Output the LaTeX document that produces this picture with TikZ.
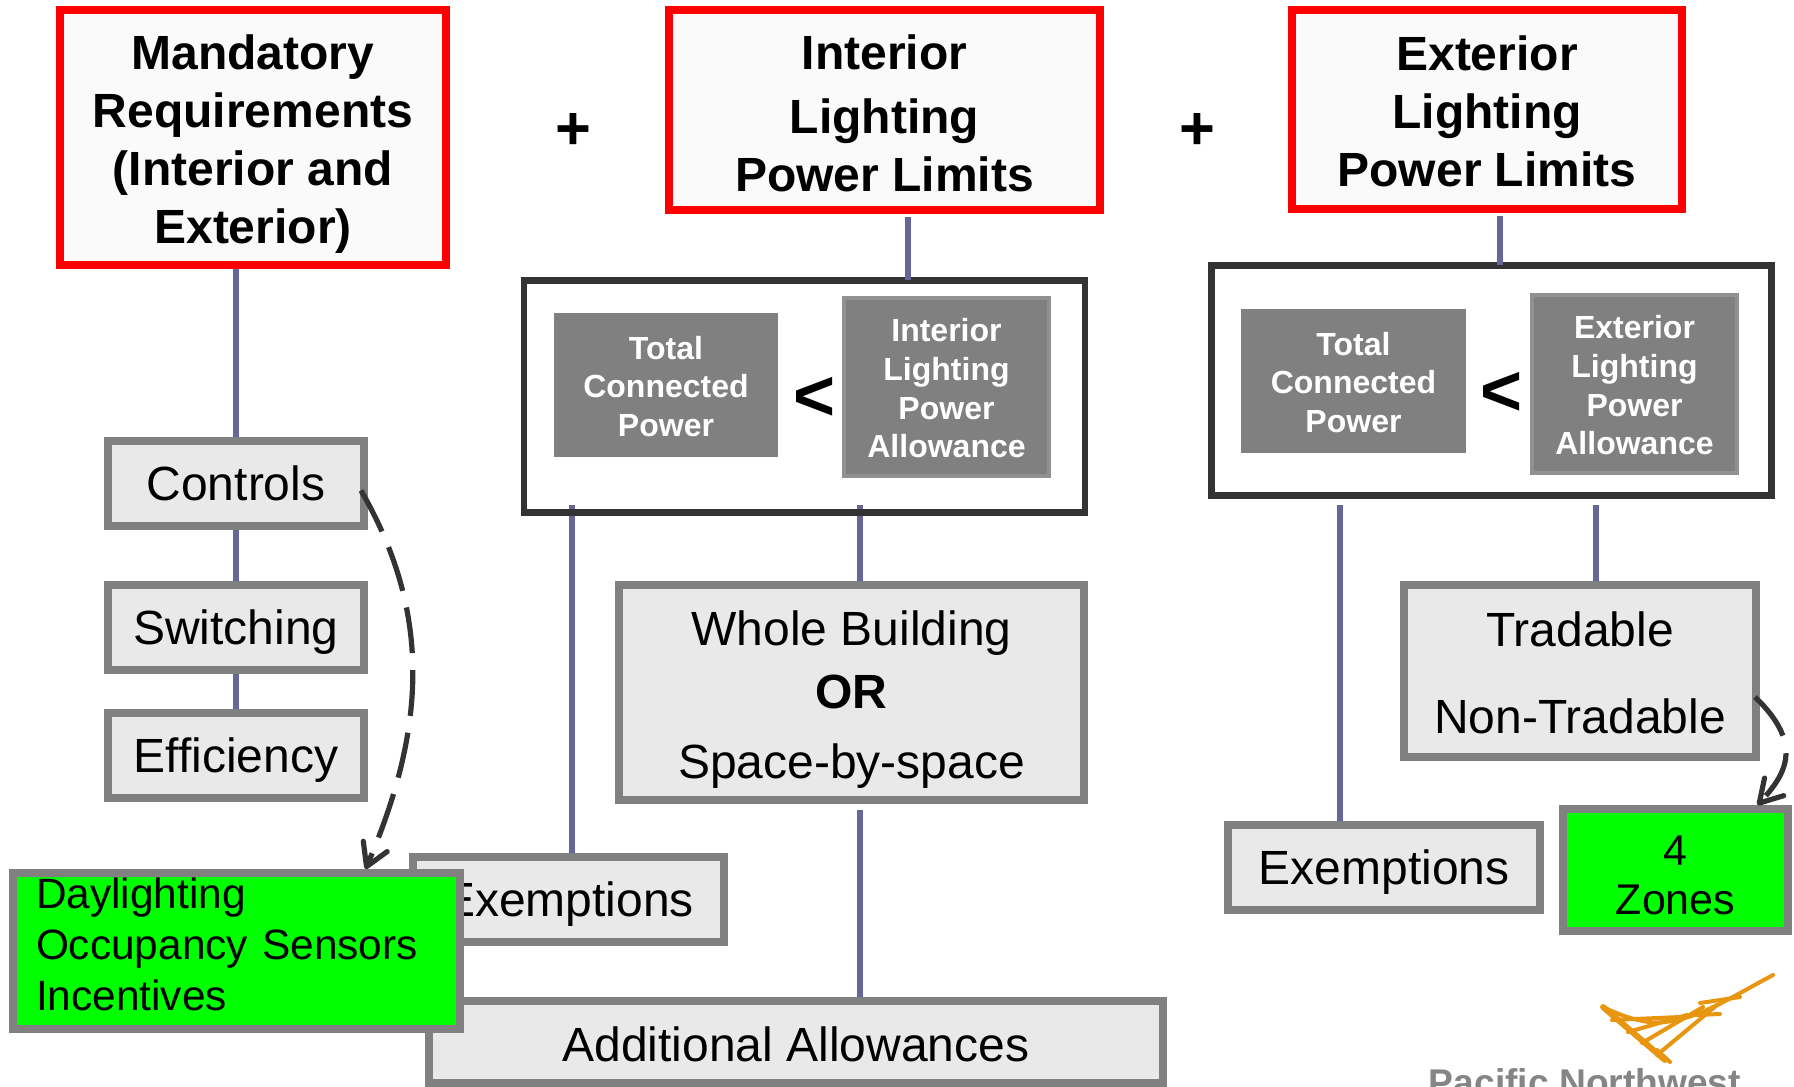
\documentclass[tikz,border=0pt]{standalone}
\usepackage{fontspec}
\setmainfont{Liberation Sans}
\usetikzlibrary{positioning, arrows.meta, calc, backgrounds}
\definecolor{link_blue}{HTML}{666699}
\definecolor{box_gray}{HTML}{808080}
\definecolor{box_fill}{HTML}{E9E9E9}
\definecolor{logo_orange}{HTML}{E8950F}
\newcommand{\padtop}[1]{\rule{0pt}{#1}}

\begin{document}
\begin{tikzpicture}
    [
        x=0.5pt, y=-0.5pt, on grid, inner sep=0pt,
        red_node/.style={rectangle, draw=red, fill=black!2, line width=4pt, align=center, font=\fontsize{24}{29}\selectfont\bfseries},
        gray_node/.style={rectangle, draw=box_gray, fill=box_fill, line width=4pt, align=center, font=\fontsize{24}{29}\selectfont},
        green_node/.style={rectangle, draw=box_gray, fill=green, line width=4pt},
        frame_node/.style={rectangle, draw=black!80, line width=3.3pt},
        dark_node/.style={rectangle, fill=box_gray, text=white, align=center, font=\fontsize{16}{19.3}\selectfont\bfseries},
        sign_node/.style={font=\fontsize{36}{36}\selectfont\bfseries},
        link_line/.style={draw=link_blue, line width=3pt},
        hint_line/.style={draw=black!80, line width=2.6pt, dash pattern=on 23pt off 8.5pt, -{Straight Barb[length=11pt, width=13pt, line width=2.6pt, round]}},
        logo_line/.style={draw=logo_orange, line width=2pt, line cap=round},
    ]
    \useasboundingbox (0,0) rectangle (1794,1087);

    % top row
    \node[red_node, minimum width=193pt, minimum height=127.5pt] (mandatory) at (253,137.5) {\padtop{24pt}Mandatory\\Requirements\\(Interior and\\Exterior)};
    \node[red_node, minimum width=215.5pt, minimum height=100pt] (interior) at (884.5,110) {\padtop{20.6pt}Interior\\[3pt]Lighting\\Power Limits};
    \node[red_node, minimum width=195pt, minimum height=99.5pt] (exterior) at (1487,109.5) {\padtop{18.9pt}Exterior\\Lighting\\Power Limits};
    \node[sign_node, font=\fontsize{30.7}{31}\selectfont\bfseries] (plus_a) at (573,131.5) {+};
    \node[sign_node, font=\fontsize{30.7}{31}\selectfont\bfseries] (plus_b) at (1197,131.5) {+};

    % limit frames
    \node[frame_node, minimum width=280.4pt, minimum height=116pt] (limit_int) at (804.5,396.5) {};
    \node[dark_node, minimum width=112pt, minimum height=72pt] (tcp_int) at (666,385) {\padtop{13pt}Total\\Connected\\Power};
    \node[dark_node, draw=black!43, line width=2pt, minimum width=102.5pt, minimum height=89pt] (lpa_int) at (946.5,387) {\padtop{13pt}Interior\\Lighting\\Power\\Allowance};
    \node[sign_node] (less_int) at (815,399) {<};
    \node[frame_node, minimum width=280pt, minimum height=115pt] (limit_ext) at (1491.5,380.5) {};
    \node[dark_node, minimum width=112.5pt, minimum height=72pt] (tcp_ext) at (1353.5,381) {\padtop{13pt}Total\\Connected\\Power};
    \node[dark_node, draw=black!43, line width=2pt, minimum width=102.5pt, minimum height=89pt] (lpa_ext) at (1634.5,384) {\padtop{13pt}Exterior\\Lighting\\Power\\Allowance};
    \node[sign_node] (less_ext) at (1502,394) {<};

    % left column
    \node[gray_node, minimum width=128pt, minimum height=42.5pt] (controls) at (236,483.5) {Controls};
    \node[gray_node, text depth=0pt, minimum width=128pt, minimum height=42.5pt] (switching) [below = 72pt of controls] {Switching};
    \node[gray_node, text depth=0pt, minimum width=128pt, minimum height=42.5pt] (efficiency) [below = 64pt of switching] {Efficiency};

    % lower boxes
    \node[gray_node, minimum width=232.5pt, minimum height=107.5pt] (whole) at (851.5,692.5) {\padtop{24.6pt}Whole Building\\[2.5pt]\textbf{OR}\\[6pt]Space-by-space};
    \node[gray_node, text depth=0pt, minimum width=155.5pt, minimum height=42.5pt] (exempt_int) at (568.5,899.5) {Exemptions};
    \node[gray_node, text height=19.8pt, minimum width=367pt, minimum height=41pt] (additional) at (796,1042) {Additional Allowances};
    \node[gray_node, minimum width=176pt, minimum height=86pt] (tradable) at (1580,671) {\padtop{18.9pt}Tradable\\[14.5pt]Non-Tradable};
    \node[gray_node, text depth=0pt, minimum width=156pt, minimum height=42.5pt] (exempt_ext) at (1384,867.5) {Exemptions};
    \node[green_node, align=center, font=\fontsize{21.5}{24.5}\selectfont, minimum width=112.5pt, minimum height=61pt] (zones) at (1675.5,870) {\padtop{20.2pt}4\\Zones};
    \node[green_node, align=left, font=\fontsize{21.2}{25.5}\selectfont, text width=200.5pt, inner xsep=11.5pt, minimum height=78pt] (incentives) at (236.5,951) {Daylighting\\Occupancy Sensors\\Incentives\rule[-7pt]{0pt}{0pt}};

    % taps under the frames
    \coordinate (tap_a) at (572,505);
    \coordinate (tap_b) at (860,505);
    \coordinate (tap_c) at (1340,505);
    \coordinate (tap_d) at (1596,505);
    \coordinate (tap_e) at (908,0);
    \coordinate (tap_f) at (1500,0);

    \begin{pgfonlayer}{background}
        \draw[link_line] (mandatory.south -| controls.north) -- (controls.north);
        \draw[link_line] (controls) -- (switching);
        \draw[link_line] (switching) -- (efficiency);
        \draw[link_line] (tap_a) -- (tap_a |- exempt_int.north);
        \draw[link_line] (tap_b) -- (tap_b |- whole.north);
        \draw[link_line] (tap_c) -- (tap_c |- exempt_ext.north);
        \draw[link_line] (tap_d) -- (tap_d |- tradable.north);
        \draw[link_line, shorten <=3pt] (tap_b |- whole.south) -- (tap_b |- additional.north);
    \end{pgfonlayer}
    \draw[link_line, shorten <=1.5pt] (interior.south -| tap_e) -- ($(limit_int.north -| tap_e)+(0,3)$);
    \draw[link_line, shorten <=1.5pt] (exterior.south -| tap_f) -- ($(limit_ext.north -| tap_f)+(0,3)$);

    \draw[hint_line] ($(controls.east)+(-7,7)$) .. controls (430,610) and (428,724) .. ($(incentives.north)+(129,0)$);
    \draw[hint_line, dash pattern=on 24pt off 9pt] ($(tradable.east)+(-5,26)$) .. controls (1805,745) and (1785,775) .. ($(zones.north)+(82,0)$);

    % logo
    \draw[logo_line, line width=3pt] (1603,1007) -- (1665,1060);
    \draw[logo_line] (1603,1007) .. controls (1630,1020) and (1650,1024) .. (1665,1022) .. controls (1700,1018) and (1730,998) .. (1773,975);
    \foreach \xa/\ya/\xb/\yb in {1657/1055/1717/1005, 1642/1043/1703/1007, 1628/1032/1687/1015, 1612/1020/1680/1017, 1670/1062/1657/1050, 1720/1014/1696/1015, 1740/997/1700/1003}
        \draw[logo_line] (\xa,\ya) -- (\xb,\yb);
    \node[anchor=base, text=black!48, font=\fontsize{18.6}{20}\selectfont\bfseries] (pnnl) at (1585,1095) {Pacific Northwest};
\end{tikzpicture}
\end{document}
